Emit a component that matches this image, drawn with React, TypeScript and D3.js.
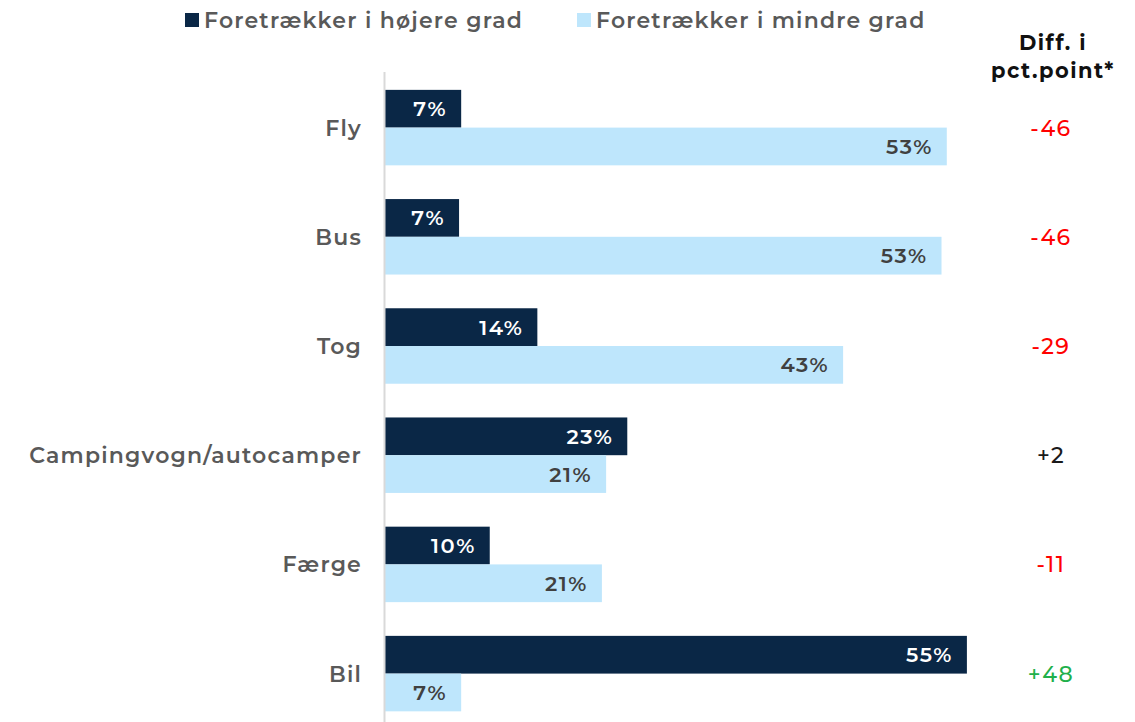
import React from "react";
import * as d3 from "d3";

const categories = ["Fly", "Bus", "Tog", "Campingvogn/autocamper", "Færge", "Bil"];
const higher = [7.2, 7.0, 14.4, 22.9, 9.9, 55.0];
const lower = [53.1, 52.6, 43.3, 20.9, 20.5, 7.2];
const higherLabels = ["7%", "7%", "14%", "23%", "10%", "55%"];
const lowerLabels = ["53%", "53%", "43%", "21%", "21%", "7%"];
const diffs = ["-46", "-46", "-29", "+2", "-11", "+48"];
const seriesNames = ["Foretrækker i højere grad", "Foretrækker i mindre grad"];

const DARK = "#0a2746";
const LIGHT = "#bee6fc";
const FONT = "Montserrat, 'Open Sans', sans-serif";

export default function App() {
  const W = 1135, H = 722;
  const x = d3.scaleLinear().domain([0, 100]).range([385, 385 + 1058]);
  const y = d3.scaleBand<string>().domain(categories).range([73, 73 + 6 * 109.2]).padding(0);
  const sub = d3.scaleBand<string>().domain(["h", "m"]).range([0, y.bandwidth()]).paddingOuter(0.447).paddingInner(0);
  const diffColor = (d: string) => {
    const v = +d;
    if (v <= -5) return "#ff0000";
    if (v >= 5) return "#21b04b";
    return "#1a1a1a";
  };
  return (
    <svg width={W} height={H} style={{ position: "absolute", left: 0, top: 0, fontFamily: FONT }}>
      <rect width={W} height={H} fill="#fff" />
      {/* legend */}
      <rect x={185} y={13} width={14} height={14} fill={DARK} />
      <text x={204} y={28} fontSize={22} fontWeight={600} letterSpacing={1.2} fill="#595959">{seriesNames[0]}</text>
      <rect x={577} y={13} width={14} height={14} fill={LIGHT} />
      <text x={596} y={28} fontSize={22} fontWeight={600} letterSpacing={1.2} fill="#595959">{seriesNames[1]}</text>
      {/* diff header */}
      <text x={1053} y={50} textAnchor="middle" fontSize={21} fontWeight={700} letterSpacing={1.5} fill="#111">Diff. i</text>
      <text x={1053} y={78} textAnchor="middle" fontSize={21} fontWeight={700} letterSpacing={1.5} fill="#111">pct.point*</text>
      {categories.map((c, i) => {
        const y0 = y(c)!;
        const cy = y0 + y.bandwidth() / 2;
        const hy = y0 + sub("h")!;
        const my = y0 + sub("m")!;
        const bh = sub.bandwidth();
        return (
          <g key={c}>
            <rect x={x(0)} y={hy} width={x(higher[i]) - x(0)} height={bh} fill={DARK} />
            <rect x={x(0)} y={my} width={x(lower[i]) - x(0)} height={bh} fill={LIGHT} />
            <text x={x(higher[i]) - 14} y={hy + bh / 2 + 7.5} textAnchor="end" fontSize={21} fontWeight={600} letterSpacing={1.5} fill="#fff">{higherLabels[i]}</text>
            <text x={x(lower[i]) - 14} y={my + bh / 2 + 7.5} textAnchor="end" fontSize={21} fontWeight={600} letterSpacing={1.5} fill="#404040">{lowerLabels[i]}</text>
            <text x={362} y={cy + 8} textAnchor="end" fontSize={22} fontWeight={600} letterSpacing={1.2} fill="#595959">{c}</text>
            <text x={1051} y={cy + 8} textAnchor="middle" fontSize={22} fontWeight={500} letterSpacing={1.5} fill={diffColor(diffs[i])}>{diffs[i]}</text>
          </g>
        );
      })}
      <line x1={384.5} x2={384.5} y1={72} y2={722} stroke="#d9d9d9" strokeWidth={2} />
    </svg>
  );
}
